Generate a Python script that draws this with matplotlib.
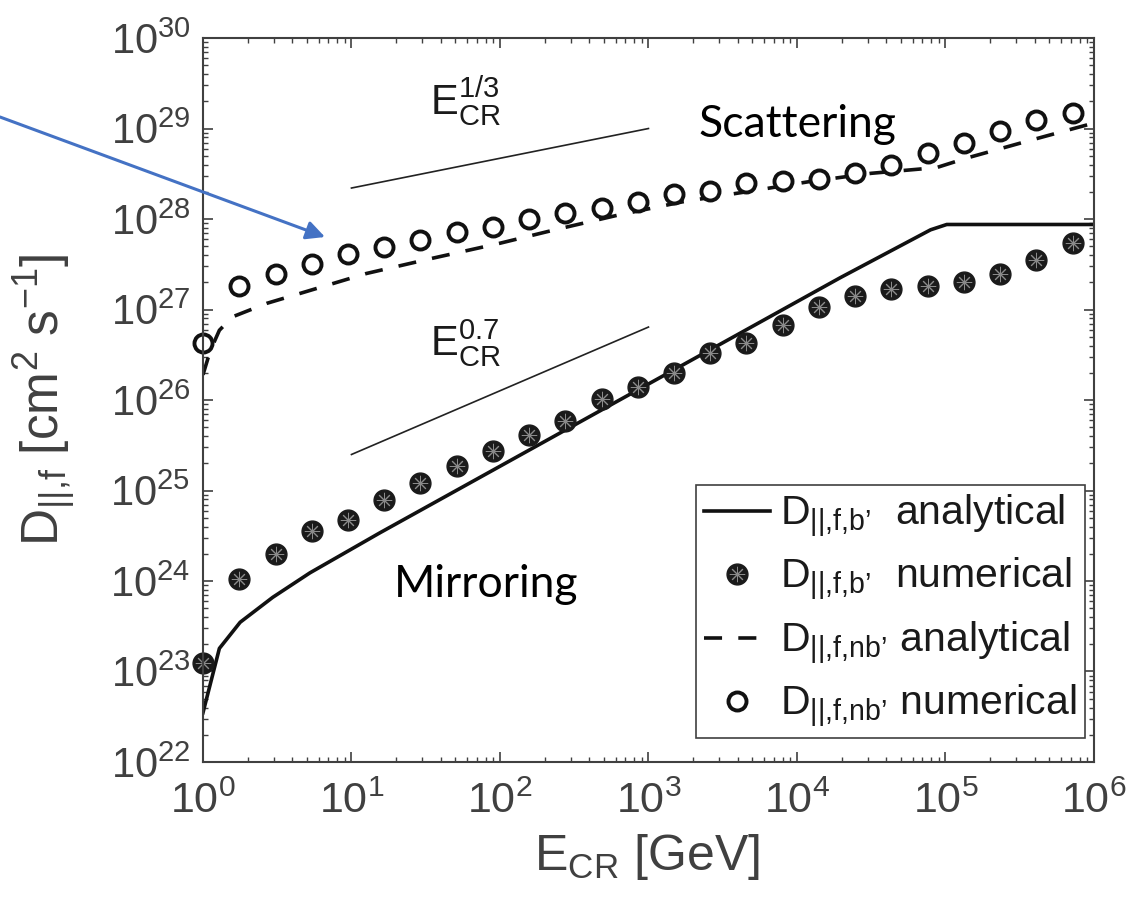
import numpy as np
import matplotlib
matplotlib.use("Agg")
import matplotlib.pyplot as plt
from matplotlib.ticker import LogLocator, NullFormatter
from matplotlib.legend_handler import HandlerTuple

plt.rcParams['font.family'] = ['Liberation Sans', 'DejaVu Sans']
plt.rcParams['mathtext.fontset'] = 'custom'
plt.rcParams['mathtext.rm'] = 'Liberation Sans'
plt.rcParams['mathtext.it'] = 'Liberation Sans:italic'
plt.rcParams['mathtext.bf'] = 'Liberation Sans:bold'

# energies of the numerical points [GeV]
E_num = [1, 1.75, 3.08, 5.4, 9.46, 16.6, 29.1, 51.1, 89.5, 157, 275, 483, 847,
         1486, 2606, 4571, 8017, 14060, 24660, 43250, 75860, 133000, 233300,
         409300, 717800]

# D_||,f,b numerical (filled dots)
D_b_num = [1.23e23, 1.05e24, 2.0e24, 3.6e24, 4.7e24, 7.8e24, 1.2e25, 1.86e25,
           2.75e25, 4.1e25, 5.9e25, 1.02e26, 1.41e26, 2.0e26, 3.3e26, 4.3e26,
           6.8e26, 1.07e27, 1.41e27, 1.7e27, 1.82e27, 2.0e27, 2.5e27, 3.55e27,
           5.4e27]

# D_||,f,nb numerical (open circles)
D_nb_num = [4.3e26, 1.8e27, 2.5e27, 3.2e27, 4.1e27, 4.9e27, 5.8e27, 7.2e27,
            8.1e27, 1.0e28, 1.17e28, 1.32e28, 1.55e28, 1.9e28, 2.04e28, 2.5e28,
            2.6e28, 2.8e28, 3.2e28, 4.0e28, 5.4e28, 6.9e28, 9.5e28, 1.23e29,
            1.5e29]

# D_||,f,b analytical (solid)
E_b_an = [1, 1.29, 1.78, 2.95, 5.25, 15.5, 19500, 79400, 102000, 1e6]
D_b_an = [3.5e22, 1.8e23, 3.5e23, 6.6e23, 1.23e24, 3.4e24, 2.24e27, 7.6e27,
          8.7e27, 8.7e27]

# D_||,f,nb analytical (dashed)
E_nb_an = [1, 1.12, 1.29, 1.58, 2.69, 4.47, 12.6, 35.5, 100, 234, 617, 1700,
           4570, 12300, 31600, 87100, 138000, 372000, 1e6]
D_nb_an = [1.9e26, 3.5e26, 5.9e26, 8.3e26, 1.17e27, 1.5e27, 2.5e27, 3.7e27,
           5.4e27, 7.6e27, 1.1e28, 1.55e28, 2.0e28, 2.6e28, 3.2e28, 3.7e28,
           4.7e28, 7.4e28, 1.15e29]

# slope guides
E_guide = [10, 1000]
D_guide_13 = [2.2e28, 1.0e29]
D_guide_07 = [2.5e25, 6.4e26]

grey = '#404040'

fig = plt.figure(figsize=(11.32, 8.99), dpi=100)
ax = fig.add_axes([0.1793, 0.1524, 0.7871, 0.8053])

ax.plot(E_guide, D_guide_13, color='#222222', lw=1.2)
ax.plot(E_guide, D_guide_07, color='#222222', lw=1.2)

l_b, = ax.plot(E_b_an, D_b_an, color='#111111', lw=2.6, solid_joinstyle='round')
l_nb, = ax.plot(E_nb_an, D_nb_an, color='#111111', lw=2.6, dashes=(5, 4.5))

m_nb, = ax.plot(E_num, D_nb_num, ls='none', marker='o', ms=13, mfc='white',
                mec='#111111', mew=2.8, clip_on=False)
m_b, = ax.plot(E_num, D_b_num, ls='none', marker='o', ms=15, mfc='#1a1a1a',
               mec='#1a1a1a', clip_on=False)
m_bs, = ax.plot(E_num, D_b_num, ls='none', marker=(8, 2, 0), ms=11,
                mec='#8a8a8a', mew=0.7, clip_on=False)

ax.set_xscale('log')
ax.set_yscale('log')
ax.set_xlim(1, 1e6)
ax.set_ylim(1e22, 1e30)
ax.xaxis.set_major_locator(LogLocator(base=10, numticks=20))
ax.yaxis.set_major_locator(LogLocator(base=10, numticks=20))
ax.xaxis.set_minor_locator(LogLocator(base=10, subs=np.arange(2, 10), numticks=20))
ax.yaxis.set_minor_locator(LogLocator(base=10, subs=np.arange(2, 10), numticks=20))
ax.xaxis.set_minor_formatter(NullFormatter())
ax.yaxis.set_minor_formatter(NullFormatter())

ax.tick_params(which='both', direction='in', top=True, right=True,
               color=grey, labelcolor=grey, labelsize=30)
ax.tick_params(which='major', length=7, width=1.2)
ax.tick_params(which='minor', length=3.5, width=1.0)
ax.tick_params(axis='x', pad=14, labelsize=31)
ax.tick_params(axis='y', pad=9)
for s in ax.spines.values():
    s.set_color(grey)
    s.set_linewidth(1.5)

ax.set_xlabel(r'E$_{\mathrm{CR}}$ [GeV]', fontsize=36, color=grey)
ax.set_ylabel(r'D$_{||\mathrm{{,}f}}$ [cm$^{2}$ s$^{-1}$]', fontsize=37, color=grey)
ax.xaxis.set_label_coords(0.498, -0.097)
ax.yaxis.set_label_coords(-0.14, 0.5)

ax.text(0.295, 0.913, r'$\mathrm{E}_{\mathrm{CR}}^{1/3}$', transform=ax.transAxes,
        fontsize=30, color='#1a1a1a', ha='center', va='center')
ax.text(0.295, 0.579, r'$\mathrm{E}_{\mathrm{CR}}^{0.7}$', transform=ax.transAxes,
        fontsize=30, color='#1a1a1a', ha='center', va='center')

ax.text(0.667, 0.863, 'Scattering', transform=ax.transAxes, fontsize=32,
        family=['Lato', 'DejaVu Sans'], color='black', ha='center', va='baseline')
ax.text(0.318, 0.228, 'Mirroring', transform=ax.transAxes, fontsize=32,
        family=['Lato', 'DejaVu Sans'], color='black', ha='center', va='baseline')

labels = [r"D$_{\mathrm{||{,}f{,}b’}}$  analytical",
          r"D$_{\mathrm{||{,}f{,}b’}}$  numerical",
          r"D$_{\mathrm{||{,}f{,}nb’}}$ analytical",
          r"D$_{\mathrm{||{,}f{,}nb’}}$ numerical"]
leg = ax.legend([l_b, (m_b, m_bs), l_nb, m_nb], labels,
                handler_map={tuple: HandlerTuple(ndivide=1, pad=0)},
                loc='lower right', bbox_to_anchor=(0.990, 0.033),
                fontsize=29.5, frameon=True, fancybox=False, framealpha=1,
                edgecolor=grey, handlelength=1.6, handletextpad=0.25,
                borderpad=0.2, labelspacing=0.4, borderaxespad=0)
leg.get_frame().set_linewidth(1.2)
for t in leg.get_texts():
    t.set_color('#1a1a1a')

# blue arrow pointing at the curves
ax.annotate('', xy=(325, 899 - 237), xytext=(0, 899 - 117),
            xycoords='figure pixels', textcoords='figure pixels',
            arrowprops=dict(arrowstyle='-|>', color='#4472C4', lw=2.2,
                            mutation_scale=28, shrinkA=0, shrinkB=0),
            annotation_clip=False)

fig.savefig('out.png', dpi=100)
